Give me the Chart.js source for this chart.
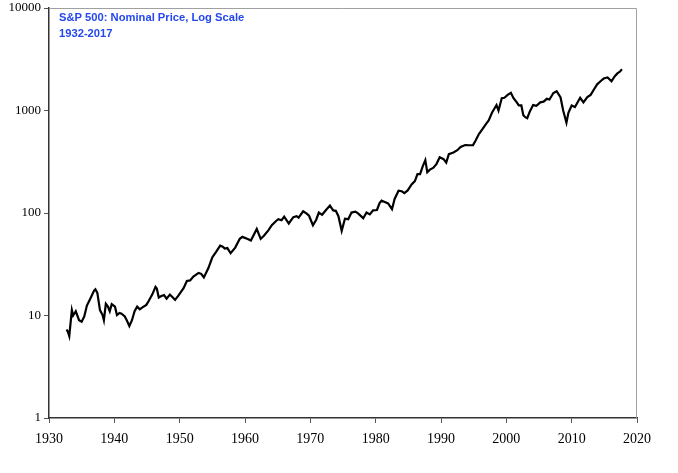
<!DOCTYPE html>
<html>
<head>
<meta charset="utf-8">
<script src="https://cdn.jsdelivr.net/npm/chart.js@4.4.1/dist/chart.umd.min.js"></script>
<style>
  body { margin: 0; background: #fff; }
  #wrap { width: 678px; height: 473px; }
</style>
</head>
<body>
<div id="wrap"><canvas id="spChart" width="678" height="473"></canvas></div>
<script>
// S&P 500 nominal price
var years = [
  1932.7, 1932.9, 1933.1, 1933.5, 1933.7, 1934.1, 1934.6, 1935.0, 1935.4, 1935.8,
  1936.3, 1936.9, 1937.1, 1937.4, 1937.8, 1938.2, 1938.4, 1938.7, 1939.0, 1939.3,
  1939.6, 1940.1, 1940.4, 1940.8, 1941.1, 1941.6, 1941.9, 1942.3, 1942.7, 1943.1,
  1943.5, 1943.9, 1944.3, 1944.9, 1945.3, 1945.8, 1946.3, 1946.5, 1946.8, 1947.2,
  1947.6, 1948.0, 1948.5, 1949.3, 1949.8, 1950.2, 1950.6, 1951.1, 1951.6, 1952.1,
  1952.9, 1953.3, 1953.7, 1954.4, 1955.0, 1955.6, 1956.2, 1956.6, 1956.9, 1957.3,
  1957.8, 1958.5, 1959.2, 1959.6, 1960.5, 1960.9, 1961.8, 1962.4, 1962.9, 1963.6,
  1964.1, 1964.8, 1965.1, 1965.6, 1966.0, 1966.7, 1967.4, 1967.9, 1968.2, 1968.9,
  1969.4, 1969.8, 1970.4, 1970.9, 1971.3, 1971.8, 1972.4, 1973.0, 1973.5, 1973.9,
  1974.3, 1974.8, 1975.3, 1975.8, 1976.3, 1976.9, 1977.3, 1978.1, 1978.6, 1979.1,
  1979.6, 1980.2, 1980.6, 1980.9, 1981.4, 1981.9, 1982.5, 1982.9, 1983.5, 1984.0,
  1984.4, 1984.9, 1985.5, 1986.0, 1986.4, 1986.8, 1987.2, 1987.6, 1987.9, 1988.3,
  1988.8, 1989.3, 1989.8, 1990.4, 1990.8, 1991.2, 1991.9, 1992.5, 1993.0, 1993.7,
  1994.3, 1994.9, 1995.3, 1995.8, 1996.4, 1996.9, 1997.3, 1997.8, 1998.5, 1998.8,
  1999.3, 1999.7, 2000.2, 2000.7, 2001.1, 2001.6, 2001.9, 2002.3, 2002.6, 2002.9,
  2003.2, 2003.6, 2004.1, 2004.6, 2005.2, 2005.7, 2006.2, 2006.6, 2007.2, 2007.7,
  2008.3, 2008.7, 2009.2, 2009.5, 2010.0, 2010.5, 2011.3, 2011.8, 2012.4, 2012.9,
  2013.5, 2013.9, 2014.5, 2014.9, 2015.5, 2016.1, 2016.6, 2017.0, 2017.4, 2017.7
];
var prices = [
  7.3, 6.9, 6.3, 11.3, 10.0, 11.0, 9.0, 8.7, 9.8, 12.5,
  14.5, 17.5, 18.0, 16.6, 11.3, 10.1, 9.0, 13.0, 12.3, 11.0,
  12.9, 12.2, 10.1, 10.6, 10.4, 9.8, 9.0, 7.9, 9.0, 11.0,
  12.2, 11.5, 12.0, 12.7, 14.0, 16.0, 19.0, 18.3, 15.0, 15.5,
  15.8, 14.6, 16.0, 14.2, 15.6, 17.0, 18.5, 21.7, 22.0, 24.0,
  26.0, 25.5, 23.5, 29.0, 37.0, 42.0, 48.0, 47.0, 45.0, 45.5,
  40.5, 46.0, 56.0, 58.5, 55.5, 54.0, 70.0, 56.0, 60.0, 68.0,
  76.0, 84.0, 87.0, 85.0, 92.0, 79.0, 91.0, 93.0, 90.0, 104.0,
  99.0, 94.0, 76.0, 86.0, 101.0, 96.0, 107.0, 118.0, 106.0, 105.0,
  93.0, 67.0, 88.0, 87.0, 101.0, 103.0, 99.0, 89.0, 101.0, 97.0,
  106.0, 107.0, 125.0, 132.0, 128.0, 124.0, 109.0, 137.0, 165.0, 163.0,
  156.0, 166.0, 190.0, 205.0, 240.0, 240.0, 285.0, 328.0, 250.0, 265.0,
  275.0, 300.0, 350.0, 335.0, 310.0, 375.0, 390.0, 410.0, 440.0, 460.0,
  458.0, 460.0, 510.0, 590.0, 665.0, 740.0, 800.0, 950.0, 1130.0, 1000.0,
  1320.0, 1330.0, 1420.0, 1490.0, 1320.0, 1200.0, 1120.0, 1120.0, 900.0, 860.0,
  840.0, 980.0, 1130.0, 1110.0, 1200.0, 1220.0, 1300.0, 1280.0, 1480.0, 1540.0,
  1340.0, 1000.0, 760.0, 950.0, 1120.0, 1080.0, 1330.0, 1200.0, 1350.0, 1420.0,
  1640.0, 1800.0, 1950.0, 2050.0, 2100.0, 1930.0, 2160.0, 2300.0, 2400.0, 2520.0
];
var yTicks = [1, 10, 100, 1000, 10000];
var titleLines = ['S&P 500: Nominal Price, Log Scale', '1932-2017'];

var points = [];
for (var i = 0; i < years.length; i++) {
    points.push({ x: years[i], y: prices[i] });
}

// light grey frame on top/right + blue title inside the plot
var framePlugin = {
    id: 'frame',
    beforeDatasetsDraw: function(chart) {
        var a = chart.chartArea;
        var ctx = chart.ctx;
        ctx.save();
        ctx.strokeStyle = '#a0a0a0';
        ctx.lineWidth = 1;
        ctx.beginPath();
        ctx.moveTo(a.left, a.top + 0.5);
        ctx.lineTo(a.right - 0.5, a.top + 0.5);
        ctx.lineTo(a.right - 0.5, a.bottom);
        ctx.stroke();
        ctx.fillStyle = '#2447ee';
        ctx.font = 'bold 11.2px "Liberation Sans", Arial, sans-serif';
        ctx.textBaseline = 'middle';
        ctx.fillText(titleLines[0], a.left + 10, 18);
        ctx.fillText(titleLines[1], a.left + 10, 34);
        ctx.restore();
    }
};

const ctx = document.getElementById('spChart');
new Chart(ctx, {
    type: 'line',
    data: {
        datasets: [{
            label: 'S&P 500',
            data: points,
            borderColor: '#000',
            borderWidth: 2.2,
            pointRadius: 0,
            tension: 0,
            fill: false
        }]
    },
    options: {
        responsive: false,
        animation: false,
        layout: { padding: { top: 8, right: 41, left: 0, bottom: 0 } },
        plugins: {
            legend: { display: false },
            tooltip: { enabled: false }
        },
        scales: {
            x: {
                type: 'linear',
                min: 1930,
                max: 2020,
                grid: { drawOnChartArea: false, drawTicks: true, tickLength: 5, color: '#555' },
                border: { color: '#333', width: 1.5 },
                ticks: {
                    stepSize: 10,
                    maxRotation: 0,
                    padding: 8,
                    color: '#000',
                    font: { family: '"Liberation Serif", "Times New Roman", serif', size: 14 },
                    callback: function(v) { return String(v); }
                },
                afterFit: function(scale) { scale.height = 55; }
            },
            y: {
                type: 'logarithmic',
                min: 1,
                max: 10000,
                grid: { drawOnChartArea: false, drawTicks: true, tickLength: 5, color: '#555' },
                border: { color: '#333', width: 1.5 },
                afterBuildTicks: function(scale) {
                    scale.ticks = yTicks.map(function(v) { return { value: v }; });
                },
                ticks: {
                    padding: 3,
                    color: '#000',
                    font: { family: '"Liberation Serif", "Times New Roman", serif', size: 13 },
                    callback: function(v) { return String(v); }
                },
                afterFit: function(scale) {
                    scale.width = 49;
                    scale.paddingTop = 0;
                    scale.paddingBottom = 0;
                }
            }
        }
    },
    plugins: [framePlugin]
});
</script>
</body>
</html>
